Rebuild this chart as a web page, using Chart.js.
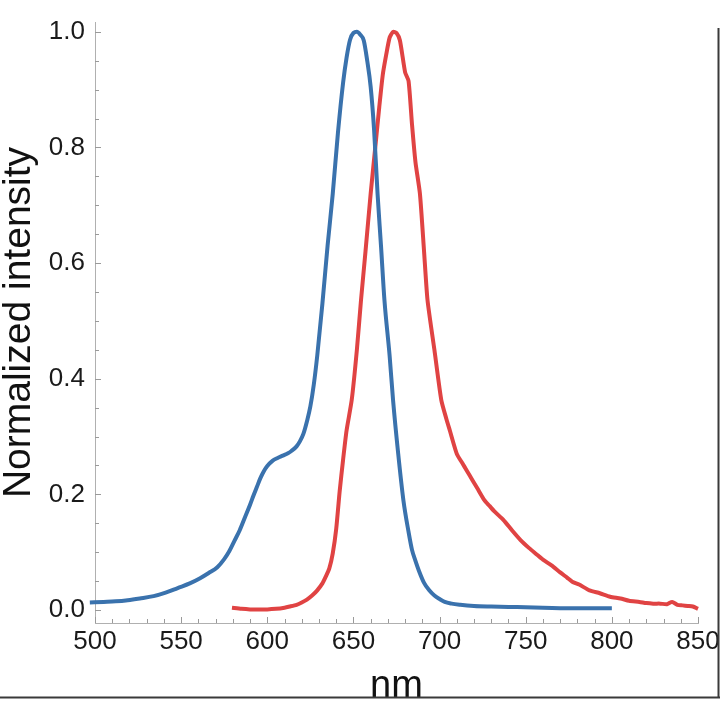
<!DOCTYPE html>
<html>
<head>
<meta charset="utf-8">
<script src="https://cdn.jsdelivr.net/npm/chart.js@4/dist/chart.umd.min.js"></script>
<style>
  html, body { margin: 0; padding: 0; background: #ffffff; }
  #wrap { width: 720px; height: 720px; position: relative; }
</style>
</head>
<body>
<div id="wrap"><canvas id="c" width="720" height="720"></canvas></div>
<script>
// ---------- data ----------
const blueX = [497, 505, 512, 519, 526, 534, 541, 548, 555, 561, 566, 571, 575, 578, 581, 584, 587, 590, 592, 594, 596, 598, 600, 603, 606, 609, 612, 614, 617, 619, 621, 623, 625, 627, 629, 632, 635, 638, 641, 644, 646, 648, 650, 652, 654, 656, 658, 660, 662, 664, 666, 668, 671, 673, 676, 679, 682, 684, 686, 688, 691, 694, 697, 700, 703, 707, 712, 720, 730, 745, 760, 780, 800];
const blueY = [0.013, 0.014, 0.015, 0.017, 0.020, 0.024, 0.030, 0.038, 0.046, 0.055, 0.064, 0.074, 0.088, 0.102, 0.120, 0.138, 0.160, 0.182, 0.198, 0.213, 0.228, 0.240, 0.249, 0.258, 0.263, 0.267, 0.271, 0.275, 0.283, 0.292, 0.305, 0.326, 0.352, 0.390, 0.440, 0.530, 0.630, 0.720, 0.825, 0.912, 0.955, 0.986, 0.998, 1.000, 0.995, 0.985, 0.950, 0.905, 0.830, 0.720, 0.630, 0.536, 0.440, 0.363, 0.270, 0.190, 0.135, 0.104, 0.085, 0.068, 0.047, 0.034, 0.025, 0.019, 0.014, 0.011, 0.009, 0.007, 0.006, 0.005, 0.004, 0.003, 0.003];

const redX = [579.5, 585, 590, 595, 600, 605, 610, 613, 617, 620, 623, 626, 629, 632, 634, 636, 638, 640, 642, 644, 646, 649, 652, 654.4, 657, 660, 663, 665, 667, 669, 671, 673, 675, 677, 680, 682, 684, 686, 688.6, 691, 693, 697, 701, 704, 706, 710, 713, 716, 719, 722, 726, 729, 732, 737, 742, 747, 752, 756, 760, 765, 770, 774, 777, 781, 787, 793, 799, 805, 810, 816, 820, 824, 828, 832, 835, 838, 841, 844, 847, 850];
const redY = [0.004, 0.002, 0.001, 0.001, 0.001, 0.002, 0.004, 0.006, 0.009, 0.013, 0.018, 0.025, 0.034, 0.046, 0.058, 0.072, 0.098, 0.140, 0.205, 0.260, 0.310, 0.363, 0.450, 0.536, 0.620, 0.720, 0.810, 0.870, 0.925, 0.960, 0.990, 1.000, 0.998, 0.985, 0.930, 0.915, 0.840, 0.775, 0.720, 0.620, 0.536, 0.450, 0.363, 0.330, 0.310, 0.270, 0.255, 0.240, 0.225, 0.210, 0.190, 0.180, 0.170, 0.156, 0.138, 0.121, 0.107, 0.097, 0.087, 0.077, 0.065, 0.056, 0.049, 0.044, 0.034, 0.029, 0.023, 0.020, 0.016, 0.014, 0.012, 0.011, 0.011, 0.010, 0.014, 0.009, 0.008, 0.007, 0.006, 0.002];

const xTickLabels = [500, 550, 600, 650, 700, 750, 800, 850];
const yTickLabels = [0.0, 0.2, 0.4, 0.6, 0.8, 1.0];
const xMinorStep = 10;
const yMinorStep = 0.05;
const xTitle = 'nm';
const yTitle = 'Normalized intensity';

// ---------- styles ----------
const BLUE = '#3a72ad';
const RED = '#e04343';
const AXIS = '#b0b0b0';
const TICK = '#9a9a9a';
const FONT = '"Liberation Sans", Arial, Helvetica, sans-serif';

const toPts = (xs, ys) => xs.map((x, i) => ({ x: x, y: ys[i] }));

// inward ticks + image border decoration
const innerTicks = {
  id: 'innerTicks',
  beforeDatasetsDraw(chart) {
    const { ctx, scales: { x, y }, chartArea: a } = chart;
    ctx.save();
    ctx.strokeStyle = TICK;
    ctx.lineWidth = 1;
    ctx.beginPath();
    for (let v = xTickLabels[0]; v <= xTickLabels[xTickLabels.length - 1] + 1e-9; v += xMinorStep) {
      const px = Math.round(x.getPixelForValue(v)) + 0.5;
      const major = xTickLabels.some(t => Math.abs(t - v) < 1e-6);
      const len = major ? 6 : 4;
      ctx.moveTo(px, a.bottom);
      ctx.lineTo(px, a.bottom - len);
    }
    for (let v = 0; v <= 1.0001; v += yMinorStep) {
      const py = Math.round(y.getPixelForValue(v)) + 0.5;
      const major = yTickLabels.some(t => Math.abs(t - v) < 1e-6);
      const len = major ? 6 : 4;
      ctx.moveTo(a.left, py);
      ctx.lineTo(a.left + len, py);
    }
    ctx.stroke();
    ctx.restore();
  },
  afterDraw(chart) {
    const { ctx } = chart;
    ctx.save();
    ctx.strokeStyle = '#3a3a3a';
    ctx.lineWidth = 2;
    ctx.beginPath();
    ctx.moveTo(718.5, 28);
    ctx.lineTo(718.5, 698);
    ctx.moveTo(0, 697.5);
    ctx.lineTo(720, 697.5);
    ctx.stroke();
    ctx.restore();
  }
};

new Chart(document.getElementById('c'), {
  type: 'line',
  data: {
    datasets: [
      { data: toPts(blueX, blueY), borderColor: BLUE, borderWidth: 4, pointRadius: 0, fill: false, cubicInterpolationMode: 'monotone', clip: 10 },
      { data: toPts(redX, redY), borderColor: RED, borderWidth: 4, pointRadius: 0, fill: false, tension: 0.2, clip: 10 }
    ]
  },
  options: {
    responsive: false,
    devicePixelRatio: 1,
    animation: false,
    events: [],
    layout: { padding: { top: 22, right: 22, left: 0, bottom: 0 } },
    plugins: { legend: { display: false }, tooltip: { enabled: false } },
    scales: {
      x: {
        type: 'linear',
        min: 500,
        max: 850,
        afterFit(s) { s.height = 97; s.paddingLeft = 0; s.paddingRight = 0; },
        afterBuildTicks(s) { s.ticks = xTickLabels.map(v => ({ value: v })); },
        ticks: { color: '#1a1a1a', font: { family: FONT, size: 26 }, padding: 3, maxRotation: 0, autoSkip: false, callback: v => String(v) },
        grid: { display: false, drawTicks: false },
        border: { display: true, color: AXIS, width: 1 },
        title: { display: true, text: xTitle, color: '#111', font: { family: FONT, size: 38, lineHeight: 1 }, padding: { top: 0, bottom: 14 } }
      },
      y: {
        type: 'linear',
        min: -0.0225,
        max: 1.017,
        afterFit(s) { s.width = 95; s.paddingTop = 0; s.paddingBottom = 0; },
        afterBuildTicks(s) { s.ticks = yTickLabels.map(v => ({ value: v })); },
        ticks: { color: '#1a1a1a', font: { family: FONT, size: 26 }, padding: 10, autoSkip: false, callback: v => Number(v).toFixed(1) },
        grid: { display: false, drawTicks: false },
        border: { display: true, color: AXIS, width: 1 },
        title: { display: true, text: yTitle, color: '#111', font: { family: FONT, size: 39, lineHeight: 1 }, padding: { top: 0, bottom: 0 } }
      }
    }
  },
  plugins: [innerTicks]
});
</script>
</body>
</html>
